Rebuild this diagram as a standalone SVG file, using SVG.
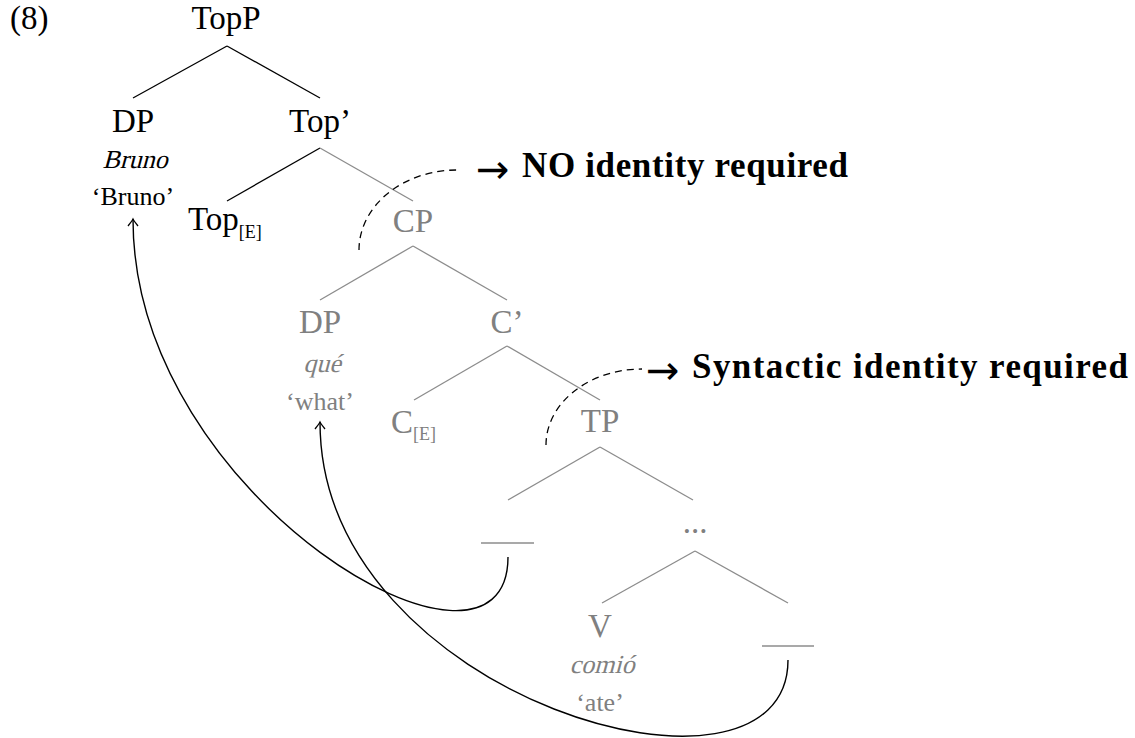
<svg xmlns="http://www.w3.org/2000/svg" width="1135" height="738" viewBox="0 0 1135 738">
<defs>
<style>
text{font-family:"Liberation Serif","Times New Roman",serif;fill:#000}
.big{font-size:33px}
.sm{font-size:26px}
.sub{font-size:18px}
.g{fill:#808080}
.c{text-anchor:middle}
.lb{stroke:#000;stroke-width:1.3;fill:none}
.lg{stroke:#8c8c8c;stroke-width:1.3;fill:none}
.dash{stroke:#000;stroke-width:1.3;fill:none;stroke-dasharray:7 5}
.mv{stroke:#000;stroke-width:1.4;fill:none;marker-end:url(#ah)}
.note{font-size:35px;font-weight:bold}
.arr{font-family:"DejaVu Sans",sans-serif;font-size:40px}
</style>
<marker id="ah" markerUnits="userSpaceOnUse" markerWidth="20" markerHeight="20" viewBox="-10 -10 20 20" refX="0" refY="0" orient="auto">
<path d="M -7 -5 Q -2 -1 0 0 Q -2 1 -7 5" stroke="#000" stroke-width="1.3" fill="none"/>
</marker>
</defs>

<text class="big" x="10" y="29">(8)</text>

<g id="connectors">
<line class="lb" x1="227" y1="46" x2="133" y2="98"/>
<line class="lb" x1="227" y1="46" x2="320" y2="98"/>
<line class="lb" x1="320" y1="148" x2="227" y2="201"/>
<line class="lg" x1="320" y1="148" x2="413" y2="201"/>
<line class="lg" x1="413" y1="246" x2="320" y2="300"/>
<line class="lg" x1="413" y1="246" x2="507" y2="300"/>
<line class="lg" x1="507" y1="346" x2="414" y2="400"/>
<line class="lg" x1="507" y1="346" x2="600" y2="400"/>
<line class="lg" x1="600" y1="447" x2="508" y2="500"/>
<line class="lg" x1="600" y1="447" x2="693" y2="500"/>
<line class="lg" x1="695" y1="551" x2="602" y2="603"/>
<line class="lg" x1="695" y1="551" x2="788" y2="603"/>
<path class="dash" d="M 359 250 A 98 80 0 0 1 457 170"/>
<path class="dash" d="M 546 445 A 96 76 0 0 1 642 369"/>
<path class="mv" d="M 508 557 C 508 715 133 500 133 219"/>
<path class="mv" d="M 788 660 C 788 830 320 700 320 422"/>
</g>

<g id="n-topp"><text class="big c" x="226" y="29">TopP</text></g>
<g id="n-dp1">
<text class="big c" x="133" y="132">DP</text>
<text class="sm c" transform="translate(135 168) skewX(-15)">Bruno</text>
<text class="sm c" x="133" y="205">‘Bruno’</text>
</g>
<g id="n-topbar"><text class="big c" x="320" y="132">Top’</text></g>
<g id="n-tope"><text class="big" x="188" y="230">Top<tspan class="sub" dy="8">[E]</tspan></text></g>
<g id="n-cp"><text class="big c g" x="413" y="232">CP</text></g>
<g id="n-dp2">
<text class="big c g" x="320" y="333">DP</text>
<text class="sm c g" transform="translate(322 372) skewX(-15)">qué</text>
<text class="sm c g" x="320" y="410">‘what’</text>
</g>
<g id="n-cbar"><text class="big c g" x="507" y="333">C’</text></g>
<g id="n-ce"><text class="big g" x="391" y="433">C<tspan class="sub" dy="7">[E]</tspan></text></g>
<g id="n-tp"><text class="big c g" x="600" y="432">TP</text></g>
<g id="n-gap1"><line class="lg" x1="481" y1="543" x2="534" y2="543"/></g>
<g id="n-dots"><text class="big c g" x="695" y="533">...</text></g>
<g id="n-v">
<text class="big c g" x="600" y="637">V</text>
<text class="sm c g" transform="translate(602 673) skewX(-15)">comió</text>
<text class="sm c g" x="600" y="711">‘ate’</text>
</g>
<g id="n-gap2"><line class="lg" x1="762" y1="646" x2="814" y2="646"/></g>

<g id="note-no">
<text class="arr" x="476" y="183">→</text>
<text class="note" x="522" y="177" textLength="326" lengthAdjust="spacing">NO identity required</text>
</g>
<g id="note-syn">
<text class="arr" x="646" y="384">→</text>
<text class="note" x="692" y="378" textLength="436" lengthAdjust="spacing">Syntactic identity required</text>
</g>
</svg>
